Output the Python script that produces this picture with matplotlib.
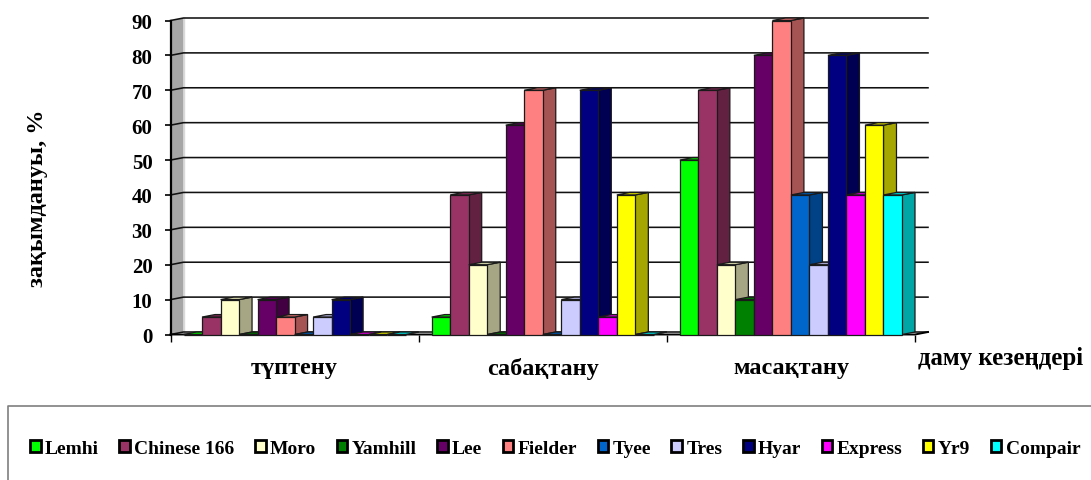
import matplotlib
matplotlib.use("Agg")
import matplotlib.pyplot as plt
from matplotlib.patches import Polygon, Patch
from matplotlib.lines import Line2D

stages = ["түптену", "сабақтану", "масақтану"]
varieties = ["Lemhi", "Chinese 166", "Moro", "Yamhill", "Lee", "Fielder",
             "Tyee", "Tres", "Hyar", "Express", "Yr9", "Compair"]
colors = ["#00FF00", "#993366", "#FFFFCC", "#008000", "#660066", "#FF8080",
          "#0066CC", "#CCCCFF", "#000080", "#FF00FF", "#FFFF00", "#00FFFF"]
tuptenu = [0, 5, 10, 0, 10, 5, 0, 5, 10, 0, 0, 0]
sabaqtanu = [5, 40, 20, 0, 60, 70, 0, 10, 70, 5, 40, 0]
masaqtanu = [50, 70, 20, 10, 80, 90, 40, 20, 80, 40, 60, 40]
yticks = list(range(0, 100, 10))

W, H = 1091, 481
plt.rcParams["font.family"] = ["Liberation Serif", "DejaVu Serif"]
plt.rcParams["font.weight"] = "bold"
fig = plt.figure(figsize=(W / 100, H / 100), dpi=100)
L, R, T, B = 170.5, 915.0, 21.5, 335.5
ax = fig.add_axes([L / W, 1 - B / H, (R - L) / W, (B - T) / H])
ax.set_xlim(0, 3)
ax.set_ylim(0, 90)
for s in ax.spines.values():
    s.set_visible(False)
ax.patch.set_alpha(0)

DX = 13.0 / ((R - L) / 3)
DY = 2.5 / ((B - T) / 90)
GAP = 13.0 / ((R - L) / 3)
BW = (1 - 2 * GAP) / len(varieties)
EDGE = "#1A1A1A"


def shade(c, f):
    r, g, b = matplotlib.colors.to_rgb(c)
    return (r * f, g * f, b * f)


# walls and grid
ax.add_patch(Polygon([(0, 0), (DX, DY), (DX, 90 + DY), (0, 90)], closed=True,
                     fc="#A6A6A6", ec="none", clip_on=False, zorder=1))
ax.add_line(Line2D([DX, DX], [DY, 90 + DY], color="#D9D9D9", lw=1, clip_on=False, zorder=1))
for v in yticks:
    ax.plot([0, DX, 3 + DX], [v, v + DY, v + DY], color="#111111", lw=1.15,
            clip_on=False, zorder=2, solid_joinstyle="miter")
ax.plot([0, 0], [0, 90], color="black", lw=1.6, clip_on=False, zorder=3)
ax.plot([0, 3, 3 + DX], [0, 0, DY], color="black", lw=1.4, clip_on=False, zorder=3)

# bars, painted left to right
z = 4
for g, row in enumerate([tuptenu, sabaqtanu, masaqtanu]):
    for i, v in enumerate(row):
        x0 = g + GAP + i * BW
        x1 = x0 + BW
        c = colors[i]
        ax.add_patch(Polygon([(x1, 0), (x1 + DX, DY), (x1 + DX, v + DY), (x1, v)], closed=True,
                             fc=shade(c, 0.65), ec=EDGE, lw=0.9, clip_on=False, zorder=z))
        ax.add_patch(Polygon([(x0, v), (x0 + DX, v + DY), (x1 + DX, v + DY), (x1, v)], closed=True,
                             fc=shade(c, 0.8), ec=EDGE, lw=0.9, clip_on=False, zorder=z))
        ax.bar(x0, v, BW, align="edge", color=c, edgecolor=EDGE, lw=0.9,
               clip_on=False, zorder=z + 0.5)
        z += 1

ax.set_yticks(yticks)
ax.tick_params(axis="y", length=4, width=1.2, pad=9, labelsize=15)
ax.set_xticks(range(4))
ax.set_xticklabels([])
ax.tick_params(axis="x", which="major", length=5, width=1.0)
ax.set_xticks([0.5, 1.5, 2.5], minor=True)
ax.set_xticklabels(stages, minor=True, fontsize=17.5, fontweight="bold")
ax.tick_params(axis="x", which="minor", length=0, pad=16)

fig.text(38 / W, 1 - 198.5 / H, "зақымдануы, %", rotation=90, ha="center", va="center",
         fontsize=17.5, fontweight="bold")
fig.text(918 / W, 1 - 359 / H, "даму кезеңдері", ha="left", va="center",
         fontsize=17.9, fontweight="bold")

# legend frame
fig.add_artist(Line2D([8 / W, 8 / W, 1], [0, 1 - 406.5 / H, 1 - 406.5 / H],
                      color="#7F7F7F", lw=1.2))
handles = [Patch(fc=c, ec="black", lw=2.0) for c in colors]
fig.legend(handles, varieties, ncol=12, frameon=False, loc="center left",
           bbox_to_anchor=(30 / W, 1 - 449.5 / H), borderaxespad=0, borderpad=0,
           handlelength=0.55, handleheight=0.55, handletextpad=0.22,
           columnspacing=1.05, prop={"size": 14, "weight": "bold"})

fig.savefig("out.png", dpi=100)
